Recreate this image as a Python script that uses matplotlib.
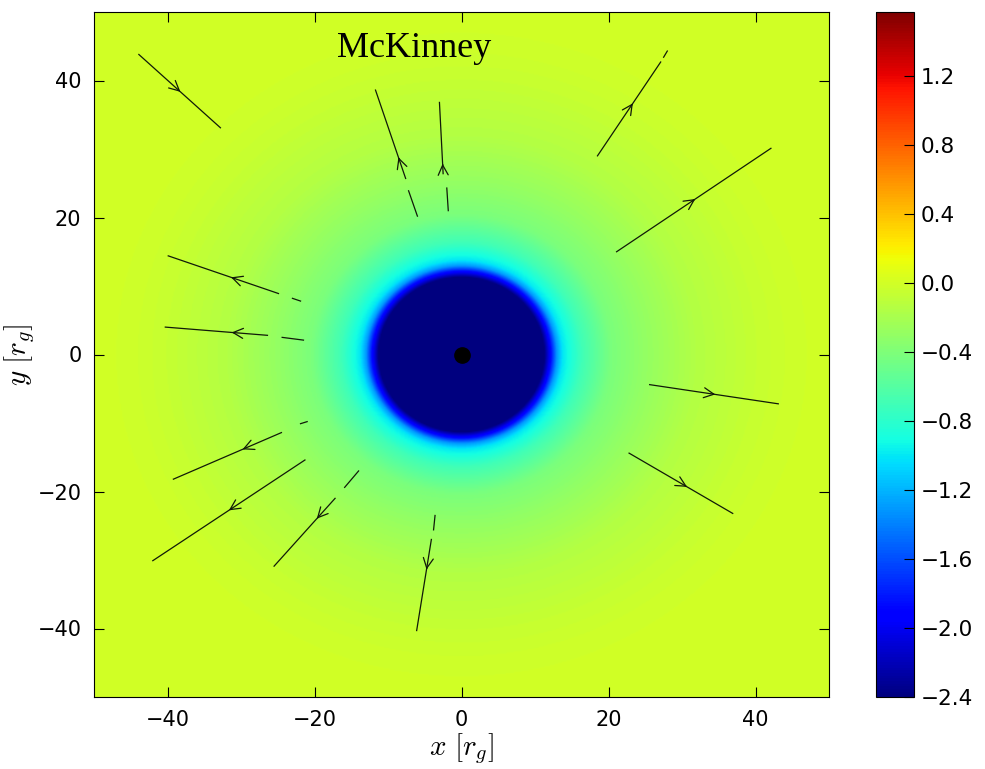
import numpy as np
import matplotlib
matplotlib.use("Agg")
import matplotlib.pyplot as plt

plt.rcParams["mathtext.fontset"] = "cm"

# radial profile of the plotted quantity (r in r_g)
prof_r = [0.0, 11.3, 12.3, 13.0, 13.8, 16.4, 20.4, 25.0, 32.0, 40.0, 45.0, 50.0, 75.0]
prof_v = [-2.4, -2.4, -1.8, -1.3, -1.0, -0.7, -0.42, -0.3, -0.15, -0.06, -0.02, 0.0, 0.0]
vmin, vmax = -2.4, 1.57

# field lines: start -> end in the flow direction, arrow position along the line
line_x0 = [-43.9, -7.6, -2.5, 18.5, 21.1, -24.9, -26.4, 25.6, 22.8, -24.5, -21.3, -17.2, -4.1]
line_y0 = [43.8, 25.7, 26.4, 29.0, 15.0, 8.9, 2.8, -4.4, -14.4, -11.4, -15.4, -21.0, -27.0]
line_x1 = [-32.8, -11.7, -3.0, 27.1, 42.1, -39.9, -40.3, 43.1, 36.9, -39.2, -42.0, -25.5, -6.1]
line_y1 = [33.1, 38.6, 36.8, 42.7, 30.1, 14.4, 4.0, -7.2, -23.2, -18.2, -30.1, -30.9, -40.3]
arrow_frac = [0.5, 0.23, 0.13, 0.55, 0.5, 0.42, 0.34, 0.5, 0.55, 0.35, 0.49, 0.29, 0.32]

# short broken pieces of the field lines closer to the hole
dash_x0 = [-7.2, -2.0, 27.5, -23.0, -24.4, -21.9, -15.9, -3.6]
dash_y0 = [23.9, 24.3, 43.4, 8.2, 2.5, -10.1, -19.4, -23.5]
dash_x1 = [-6.0, -1.8, 28.0, -21.9, -21.5, -21.0, -14.0, -3.8]
dash_y1 = [20.2, 21.0, 44.3, 7.8, 2.1, -9.8, -17.0, -25.6]

xticks = [-40, -20, 0, 20, 40]
yticks = [-40, -20, 0, 20, 40]
cticks = [-2.4, -2.0, -1.6, -1.2, -0.8, -0.4, 0.0, 0.4, 0.8, 1.2]

fig = plt.figure(figsize=(9.85, 7.69), dpi=100)
ax = fig.add_axes([94 / 985, 72 / 769, 735 / 985, 685 / 769])
cax = fig.add_axes([876 / 985, 72 / 769, 38 / 985, 685 / 769])

xs = np.linspace(-50, 50, 600)
X, Y = np.meshgrid(xs, xs)
R = np.hypot(X, Y)
Z = np.interp(R, prof_r, prof_v)

im = ax.imshow(Z, extent=[-50, 50, -50, 50], origin="lower", cmap="jet",
               vmin=vmin, vmax=vmax, aspect="auto", interpolation="bilinear")

for x0, y0, x1, y1, f in zip(line_x0, line_y0, line_x1, line_y1, arrow_frac):
    ax.plot([x0, x1], [y0, y1], color="#101a08", lw=0.9)
    mx = x0 + f * (x1 - x0)
    my = y0 + f * (y1 - y0)
    dx, dy = (x1 - x0) * 0.01, (y1 - y0) * 0.01
    ax.annotate("", xy=(mx + dx, my + dy), xytext=(mx - dx, my - dy),
                arrowprops=dict(arrowstyle="->", color="#101a08", lw=0.9,
                                mutation_scale=18, shrinkA=0, shrinkB=0))

for x0, y0, x1, y1 in zip(dash_x0, dash_y0, dash_x1, dash_y1):
    ax.plot([x0, x1], [y0, y1], color="#101a08", lw=0.9)

# the hole itself
ax.plot(0, 0, "o", color="k", ms=11)

ax.text(-6.5, 44.6, "McKinney", fontsize=26, family="Liberation Serif",
        ha="center", va="center")

ax.set_xlim(-50, 50)
ax.set_ylim(-50, 50)
ax.set_xticks(xticks)
ax.set_yticks(yticks)
ax.tick_params(direction="in", top=True, right=True, length=7, labelsize=15, pad=9)
ax.set_xlabel(r"$x\ [r_g]$", fontsize=21)
ax.set_ylabel(r"$y\ [r_g]$", fontsize=21)
ax.xaxis.set_label_coords(0.5, -0.05)
ax.yaxis.set_label_coords(-0.078, 0.5)

cb = fig.colorbar(im, cax=cax, ticks=cticks)
cb.ax.tick_params(direction="in", length=7, labelsize=15.5, pad=5)
cb.ax.set_yticklabels([f"{t:.1f}".replace("-", "\u2212") for t in cticks])

fig.savefig("out.png", dpi=100)
